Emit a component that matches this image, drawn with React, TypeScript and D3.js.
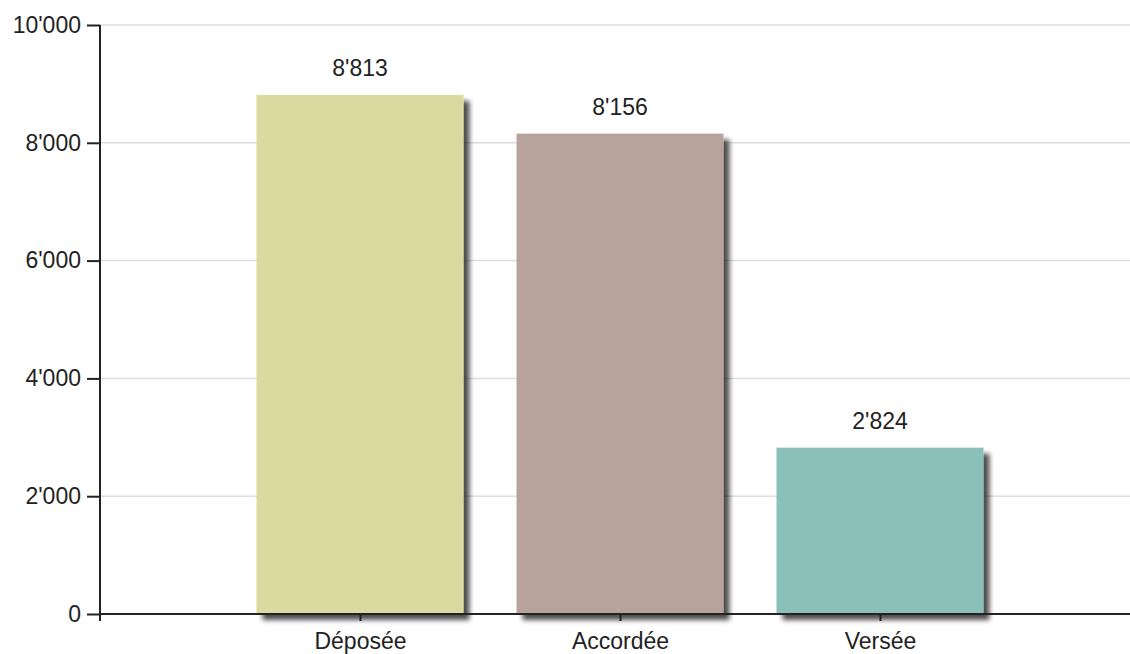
import React, { useEffect, useRef } from "react";
import * as d3 from "d3";

const categories = ["Déposée", "Accordée", "Versée"];
const values = [8813, 8156, 2824];
const colors = ["#dbd99f", "#b8a39c", "#8bbfba"];
const yTicks = [0, 2000, 4000, 6000, 8000, 10000];

const W = 1130;
const H = 654;
const FONT = "Liberation Sans, Arial, sans-serif";

const fmt = (v: number) => d3.format(",")(v).replace(/,/g, "'");

const App = () => {
  const svgRef = useRef<SVGSVGElement>(null);

  useEffect(() => {
    const svg = d3.select(svgRef.current);
    svg.selectAll("*").remove();

    const left = 100;
    const top = 25;
    const bottom = 614;

    const x = d3.scalePoint<string>().domain(categories).range([left, 1140]).padding(1);
    const y = d3.scaleLinear().domain([0, 10000]).range([bottom, top]);
    const barW = 207;

    const defs = svg.append("defs");
    const f = defs
      .append("filter")
      .attr("id", "shadow")
      .attr("x", "-10%")
      .attr("y", "-10%")
      .attr("width", "130%")
      .attr("height", "130%");
    f.append("feGaussianBlur").attr("in", "SourceAlpha").attr("stdDeviation", 2.5).attr("result", "b");
    f.append("feOffset").attr("in", "b").attr("dx", 6).attr("dy", 6).attr("result", "o");
    f.append("feComponentTransfer")
      .attr("in", "o")
      .attr("result", "s")
      .append("feFuncA")
      .attr("type", "linear")
      .attr("slope", 0.7);
    const m = f.append("feMerge");
    m.append("feMergeNode").attr("in", "s");
    m.append("feMergeNode").attr("in", "SourceGraphic");

    // grid
    svg
      .append("g")
      .selectAll("line")
      .data(yTicks.filter((d) => d > 0))
      .enter()
      .append("line")
      .attr("x1", left)
      .attr("x2", W)
      .attr("y1", (d) => y(d))
      .attr("y2", (d) => y(d))
      .attr("stroke", "#dddddd")
      .attr("stroke-width", 1.5);

    // bars
    svg
      .append("g")
      .selectAll("rect")
      .data(values)
      .enter()
      .append("rect")
      .attr("x", (d, i) => (x(categories[i]) as number) - barW / 2)
      .attr("y", (d) => y(d))
      .attr("width", barW)
      .attr("height", (d) => bottom - y(d))
      .attr("fill", (d, i) => colors[i])
      .attr("filter", "url(#shadow)");

    // value labels
    svg
      .append("g")
      .selectAll("text")
      .data(values)
      .enter()
      .append("text")
      .attr("x", (d, i) => x(categories[i]) as number)
      .attr("y", (d) => y(d) - 19)
      .attr("text-anchor", "middle")
      .attr("font-family", FONT)
      .attr("font-size", 23)
      .attr("fill", "#222")
      .text((d) => fmt(d));

    // y axis
    const yAxis = svg
      .append("g")
      .attr("transform", `translate(${left},0)`)
      .call(d3.axisLeft(y).tickValues(yTicks).tickSize(13).tickPadding(6).tickFormat((d) => fmt(d as number)));
    yAxis.select(".domain").attr("stroke", "#222").attr("stroke-width", 2).attr("d", `M0,${top}V${bottom + 7}`);
    yAxis.selectAll(".tick line").attr("stroke", "#222").attr("stroke-width", 2);
    yAxis
      .selectAll(".tick text")
      .attr("font-family", FONT)
      .attr("font-size", 23)
      .attr("fill", "#222");

    // x axis
    const xAxis = svg
      .append("g")
      .attr("transform", `translate(0,${bottom})`)
      .call(d3.axisBottom(x).tickSize(7).tickPadding(12));
    xAxis.select(".domain").attr("stroke", "#222").attr("stroke-width", 2).attr("d", `M${left - 1},0H${W}`);
    xAxis.selectAll(".tick line").attr("stroke", "#222").attr("stroke-width", 2);
    xAxis
      .selectAll(".tick text")
      .attr("font-family", FONT)
      .attr("font-size", 23)
      .attr("fill", "#222");
  }, []);

  return (
    <svg
      ref={svgRef}
      width={W}
      height={H}
      style={{ position: "absolute", left: 0, top: 0, background: "#fff" }}
    />
  );
};

export default App;
